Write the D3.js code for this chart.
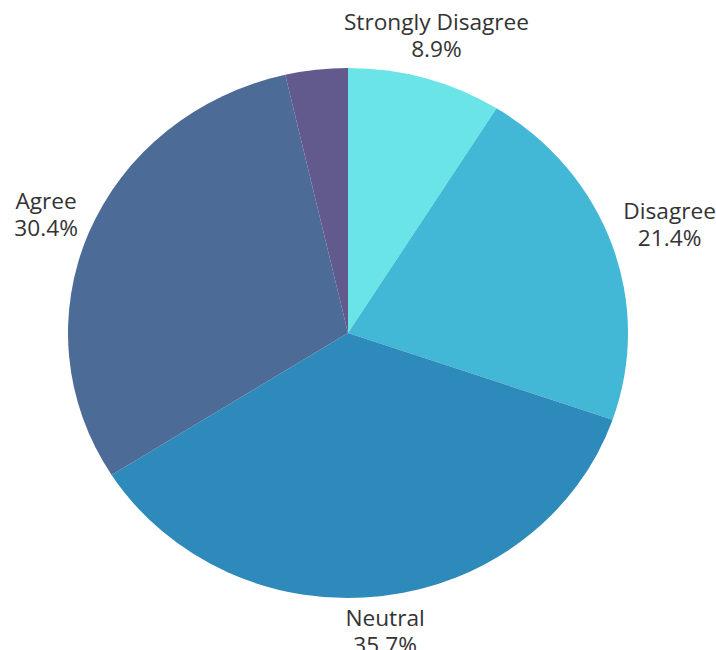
<!DOCTYPE html>
<html>
<head>
<meta charset="utf-8">
<script src="https://cdn.jsdelivr.net/npm/d3@7"></script>
<style>
  html, body { margin: 0; padding: 0; background: #fff; overflow: hidden; }
  svg { display: block; }
  text { font-family: "Open Sans", "Noto Sans", sans-serif; fill: #333; }
</style>
</head>
<body>
<svg></svg>
<script>
"use strict";

// data
const categories = ["Strongly Disagree", "Disagree", "Neutral", "Agree", "Strongly Agree"];
const values = [8.9, 21.4, 35.7, 30.4, 3.6];
const showLabel = [true, true, true, true, false];

const colors = ["#6be4e8", "#43b7d6", "#2d8aba", "#4d6b97", "#62598c"];

const width = 716, height = 650,
      cx = 348, cy = 333,
      rx = 280, ry = 265,   // the reference pie is slightly squashed
      labelGap = 12,
      fontSize = 21,
      textStretch = 1.08,   // reference text is a bit wider than Open Sans
      lineHeight = 27,
      opticalShift = 4;     // bbox ascent/descent are not symmetric

let chart = d3.select("svg")
    .attr("width", width)
    .attr("height", height);

let pie = d3.pie().sort(null).value(d => d)(values);
let arc = d3.arc().innerRadius(0).outerRadius(rx);

// slices
chart.append("g")
    .attr("class", "slices")
    .attr("transform", `translate(${cx}, ${cy}) scale(1, ${ry / rx})`)
    .selectAll("path")
    .data(pie)
    .enter()
    .append("path")
    .attr("d", arc)
    .attr("fill", (d, i) => colors[i]);

// labels
chart.append("g")
    .attr("class", "labels")
    .selectAll("g")
    .data(pie.filter((d, i) => showLabel[i]))
    .enter()
    .append("g")
    .each(function(d) {
        let i = d.index;
        let g = d3.select(this);
        let t = g.append("text")
            .attr("text-anchor", "middle")
            .attr("transform", `scale(${textStretch}, 1)`)
            .style("font-size", fontSize + "px");
        t.append("tspan").attr("x", 0).attr("y", 0).text(categories[i]);
        t.append("tspan").attr("x", 0).attr("y", lineHeight).text(d3.format(".1f")(values[i]) + "%");

        let box = t.node().getBBox();
        let w = box.width * textStretch, h = box.height;
        let a = (d.startAngle + d.endAngle) / 2,
            s = Math.sin(a), c = Math.cos(a);
        // point just outside the pie edge
        let ax = cx + (rx + labelGap) * s,
            ay = cy - (ry + labelGap) * c;
        // push text box outward until its edge touches that point
        let k = Math.min(
            Math.abs(s) > 1e-6 ? (w / 2) / Math.abs(s) : Infinity,
            Math.abs(c) > 1e-6 ? (h / 2) / Math.abs(c) : Infinity);
        let bx = ax + k * s,
            by = ay - k * c - opticalShift * c * c;
        g.attr("transform", `translate(${bx}, ${by - (box.y + box.height / 2)})`);
    });
</script>
</body>
</html>
